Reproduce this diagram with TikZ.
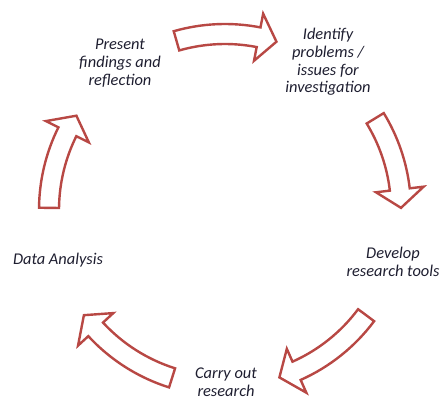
\documentclass[tikz,border=0pt]{standalone}
\usepackage{fontspec}
\setmainfont{Carlito}
\usepackage{xcolor}
\definecolor{cyclered}{RGB}{184,72,68}
\definecolor{stagetext}{RGB}{30,30,48}
\tikzset{
	stage/.style={align=center, text=stagetext, inner sep=0pt,
			font=\fontsize{12.3}{13.3}\selectfont\itshape},
	cyclearrow/.style={draw=cyclered, line width=1.8pt, fill=white}
}

\begin{document}
\begin{tikzpicture}[x=0.75pt, y=-0.75pt]
			\useasboundingbox (0,0) rectangle (446,401);
			\coordinate (hub) at (225,210);

			% Block arrows round the cycle (tail angle / tip angle)
			\begin{scope}[shift={(hub)}]
				\foreach \a/\b in {254/287, 328.6/359.3, 36.7/72, 107.5/143.3, 180.7/212.4} {
						\pgfmathsetmacro{\h}{\b-6}
						\draw[cyclearrow] (\a:186) arc[start angle=\a, end angle=\h, radius=186]
							-- (\h:200) -- (\b:176) -- (\h:152) -- (\h:166)
							arc[start angle=\h, end angle=\a, radius=166] -- cycle;
					}
			\end{scope}

			% Stages
			\node[stage] (identify) at (328,62) {Identify\\problems /\\issues for\\investigation};
			\node[stage] (develop) at (393,262) {Develop\\research tools};
			\node[stage] (carry) at (226,382) {Carry out\\research};
			\node[stage] (analysis) at (58,260) {Data Analysis};
			\node[stage] (present) at (120,63) {Present\\findings and\\reflection};
		\end{tikzpicture}
\end{document}
